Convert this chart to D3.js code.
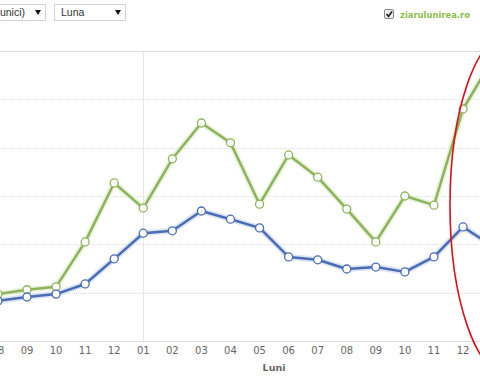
<!DOCTYPE html>
<html><head><meta charset="utf-8">
<script src="https://cdn.jsdelivr.net/npm/d3@7/dist/d3.min.js"></script>
<style>body{margin:0;background:#fff;overflow:hidden}svg{display:block}</style>
</head><body>
<script>
const months = ["08","09","10","11","12","01","02","03","04","05","06","07","08","09","10","11","12","01"];
const blueValues  = [0.83,0.91,0.97,1.18,1.70,2.23,2.28,2.69,2.52,2.34,1.74,1.68,1.49,1.53,1.43,1.74,2.36,1.97];
const greenValues = [0.97,1.06,1.12,2.05,3.27,2.75,3.77,4.51,4.10,2.83,3.85,3.39,2.73,2.05,3.00,2.81,4.80,5.81];
const yTicks = [0,1,2,3,4,5,6];
const xAxisTitle = "Luni";
const legendLabel = "ziarulunirea.ro";
const select1 = "Vizitatori (unici)";
const select2 = "Luna";

const W=480,H=381;
const svg=d3.select("body").append("svg").attr("width",W).attr("height",H);
const idx=d3.range(months.length);
const x=d3.scaleLinear().domain([0,1]).range([-2.07,27]);
const y=d3.scaleLinear().domain([0,6]).range([341,51]);
const font="Verdana, 'DejaVu Sans', sans-serif";

// controls
function selectBox(x0,w,label,anchorEnd,textX){
  const g=svg.append("g");
  g.append("rect").attr("x",x0+0.5).attr("y",4.5).attr("width",w).attr("height",16).attr("fill","#fff").attr("stroke","#d4d4d4");
  g.append("text").attr("x",textX).attr("y",16).attr("text-anchor",anchorEnd?"end":"start")
   .attr("font-family","Arial, 'Liberation Sans', sans-serif").attr("font-size",10.5).attr("fill","#333").text(label);
  g.append("path").attr("d",`M${x0+w-10},10 l6,0 l-3,5 z`).attr("fill","#111");
}
selectBox(-10,55,select1,true,25);
selectBox(54,71,select2,false,61);
// checkbox
svg.append("rect").attr("x",384.5).attr("y",9.5).attr("width",9).attr("height",9).attr("rx",1.5)
  .attr("fill","#eee").attr("stroke","#888");
svg.append("path").attr("d","M386.5,14 l2,2.5 l3.5,-5").attr("fill","none").attr("stroke","#222").attr("stroke-width",1.6);
svg.append("text").attr("x",400).attr("y",18).attr("font-family",font).attr("font-size",9.5)
  .attr("font-weight","bold").attr("fill","#8cbd4a").attr("textLength",70).attr("lengthAdjust","spacingAndGlyphs").text(legendLabel);

// grid
svg.append("g").selectAll("line").data(yTicks.slice(1,-1)).join("line")
  .attr("x1",0).attr("x2",W).attr("y1",d=>Math.round(y(d))+0.5).attr("y2",d=>Math.round(y(d))+0.5)
  .attr("stroke","#e0e0e0").attr("stroke-dasharray","1,1");
svg.append("line").attr("x1",0).attr("x2",W).attr("y1",Math.round(y(6))+0.5).attr("y2",Math.round(y(6))+0.5).attr("stroke","#dcdcdc");
svg.append("line").attr("x1",0).attr("x2",W).attr("y1",Math.round(y(0))+0.5).attr("y2",Math.round(y(0))+0.5).attr("stroke","#dcdcdc");
svg.append("line").attr("x1",Math.round(x(5))+0.5).attr("x2",Math.round(x(5))+0.5).attr("y1",y(6)).attr("y2",y(0)).attr("stroke","#e6e6e6");

// x labels (only those whose centre lies inside the visible window)
svg.append("g").selectAll("text").data(idx.filter(i=>x(i)<W)).join("text")
  .attr("x",d=>x(d)).attr("y",354).attr("text-anchor","middle")
  .attr("font-family",font).attr("font-size",10).attr("fill","#666").text(d=>months[d]);
svg.append("text").attr("x",274).attr("y",371).attr("text-anchor","middle").attr("font-family",font)
  .attr("font-size",9.5).attr("font-weight","bold").attr("fill","#666").text(xAxisTitle);

// series
const line=d3.line().x((d,i)=>x(i)).y(d=>y(d));
function series(vals,color,halo){
  svg.append("path").attr("d",line(vals)).attr("fill","none").attr("stroke",halo).attr("stroke-width",6).attr("stroke-opacity",0.5).attr("stroke-linejoin","round");
  svg.append("path").attr("d",line(vals)).attr("fill","none").attr("stroke",color).attr("stroke-width",2.5).attr("stroke-linejoin","round");
  svg.append("g").selectAll("circle").data(vals).join("circle")
    .attr("cx",(d,i)=>x(i)).attr("cy",d=>y(d)).attr("r",4).attr("fill","#fff").attr("stroke",color).attr("stroke-width",1.3);
}
series(greenValues,"#8db35a","#d6e8bd");
series(blueValues,"#4a6cb5","#bccbea");

// annotation ellipse
svg.append("ellipse").attr("cx",510).attr("cy",205).attr("rx",60).attr("ry",172)
  .attr("fill","none").attr("stroke","#d8101a").attr("stroke-width",1.6);
</script>
</body></html>
